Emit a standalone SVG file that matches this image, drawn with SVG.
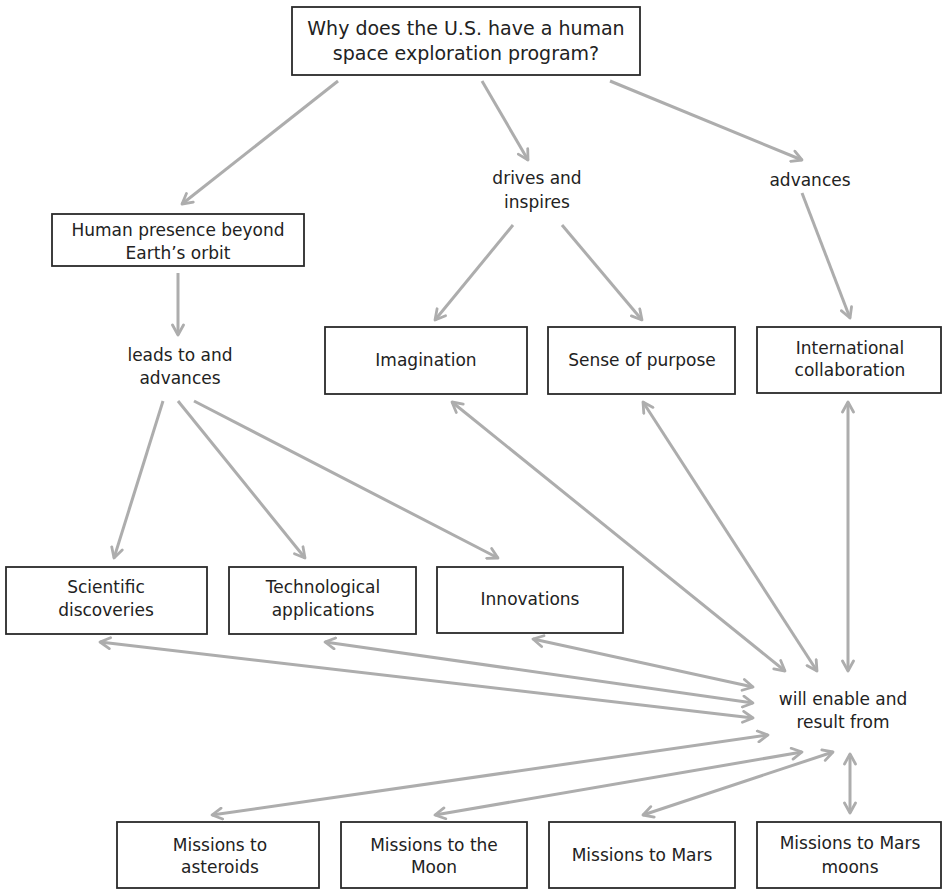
<svg xmlns="http://www.w3.org/2000/svg" width="942" height="889" viewBox="0 0 942 889">
<style>
.box{fill:#fff;stroke:#2a2a2a;stroke-width:1.8}
.t{font-family:"DejaVu Sans","Liberation Sans",sans-serif;font-size:17px;fill:#222;text-anchor:middle}
.title{font-size:19px}
.c line{stroke:#adadad;stroke-width:3;fill:none}
</style>
<defs>
<marker id="ah" viewBox="0 0 14 14" refX="12" refY="7" markerWidth="14" markerHeight="14" markerUnits="userSpaceOnUse" orient="auto-start-reverse">
<path d="M2,1.5 L12,7 L2,12.5" fill="none" stroke="#adadad" stroke-width="2.8" stroke-linejoin="round" stroke-linecap="round"/>
</marker>
</defs>
<rect width="942" height="889" fill="#fff"/>
<g class="c" id="connectors">
<line x1="338" y1="81" x2="182" y2="204" marker-end="url(#ah)"/>
<line x1="482" y1="81" x2="528" y2="160" marker-end="url(#ah)"/>
<line x1="610" y1="81" x2="802" y2="160" marker-end="url(#ah)"/>
<line x1="178" y1="273" x2="178" y2="335" marker-end="url(#ah)"/>
<line x1="513" y1="225" x2="435" y2="320" marker-end="url(#ah)"/>
<line x1="562" y1="225" x2="642" y2="320" marker-end="url(#ah)"/>
<line x1="802" y1="193" x2="850" y2="318" marker-end="url(#ah)"/>
<line x1="163" y1="401" x2="114" y2="558" marker-end="url(#ah)"/>
<line x1="178" y1="401" x2="305" y2="558" marker-end="url(#ah)"/>
<line x1="194" y1="401" x2="498" y2="558" marker-end="url(#ah)"/>
<line x1="452" y1="402" x2="785" y2="671" marker-start="url(#ah)" marker-end="url(#ah)"/>
<line x1="643" y1="402" x2="817" y2="671" marker-start="url(#ah)" marker-end="url(#ah)"/>
<line x1="848" y1="402" x2="848" y2="671" marker-start="url(#ah)" marker-end="url(#ah)"/>
<line x1="100" y1="642" x2="753" y2="718" marker-start="url(#ah)" marker-end="url(#ah)"/>
<line x1="325" y1="642" x2="753" y2="703" marker-start="url(#ah)" marker-end="url(#ah)"/>
<line x1="533" y1="639" x2="753" y2="687" marker-start="url(#ah)" marker-end="url(#ah)"/>
<line x1="768" y1="735" x2="212" y2="815" marker-start="url(#ah)" marker-end="url(#ah)"/>
<line x1="802" y1="752" x2="435" y2="815" marker-start="url(#ah)" marker-end="url(#ah)"/>
<line x1="833" y1="752" x2="643" y2="815" marker-start="url(#ah)" marker-end="url(#ah)"/>
<line x1="850" y1="754" x2="850" y2="813" marker-start="url(#ah)" marker-end="url(#ah)"/>
</g>
<g id="question"><rect class="box" x="292" y="7" width="348" height="68"/>
<text class="t title" x="466" y="35">Why does the U.S. have a human</text>
<text class="t title" x="466" y="60">space exploration program?</text></g>
<g id="human"><rect class="box" x="52" y="214" width="252" height="52"/>
<text class="t" x="178" y="236">Human presence beyond</text>
<text class="t" x="178" y="259">Earth’s orbit</text></g>
<g id="leads"><text class="t" x="180" y="361">leads to and</text>
<text class="t" x="180" y="384">advances</text></g>
<g id="drives"><text class="t" x="537" y="184">drives and</text>
<text class="t" x="537" y="208">inspires</text></g>
<g id="advances"><text class="t" x="810" y="186">advances</text></g>
<g id="imagination"><rect class="box" x="325" y="327" width="202" height="67"/>
<text class="t" x="426" y="366">Imagination</text></g>
<g id="sense"><rect class="box" x="548" y="327" width="187" height="67"/>
<text class="t" x="642" y="366">Sense of purpose</text></g>
<g id="intl"><rect class="box" x="757" y="327" width="184" height="66"/>
<text class="t" x="850" y="354">International</text>
<text class="t" x="850" y="376">collaboration</text></g>
<g id="sci"><rect class="box" x="6" y="567" width="201" height="67"/>
<text class="t" x="106" y="593">Scientific</text>
<text class="t" x="106" y="616">discoveries</text></g>
<g id="tech"><rect class="box" x="229" y="567" width="187" height="67"/>
<text class="t" x="323" y="593">Technological</text>
<text class="t" x="323" y="616">applications</text></g>
<g id="innov"><rect class="box" x="437" y="567" width="186" height="66"/>
<text class="t" x="530" y="605">Innovations</text></g>
<g id="hub"><text class="t" x="843" y="705">will enable and</text>
<text class="t" x="843" y="728">result from</text></g>
<g id="asteroids"><rect class="box" x="117" y="822" width="202" height="66"/>
<text class="t" x="220" y="851">Missions to</text>
<text class="t" x="220" y="873">asteroids</text></g>
<g id="moon"><rect class="box" x="341" y="822" width="186" height="66"/>
<text class="t" x="434" y="851">Missions to the</text>
<text class="t" x="434" y="873">Moon</text></g>
<g id="mars"><rect class="box" x="549" y="822" width="186" height="66"/>
<text class="t" x="642" y="861">Missions to Mars</text></g>
<g id="marsmoons"><rect class="box" x="757" y="822" width="184" height="66"/>
<text class="t" x="850" y="849">Missions to Mars</text>
<text class="t" x="850" y="873">moons</text></g>
</svg>
